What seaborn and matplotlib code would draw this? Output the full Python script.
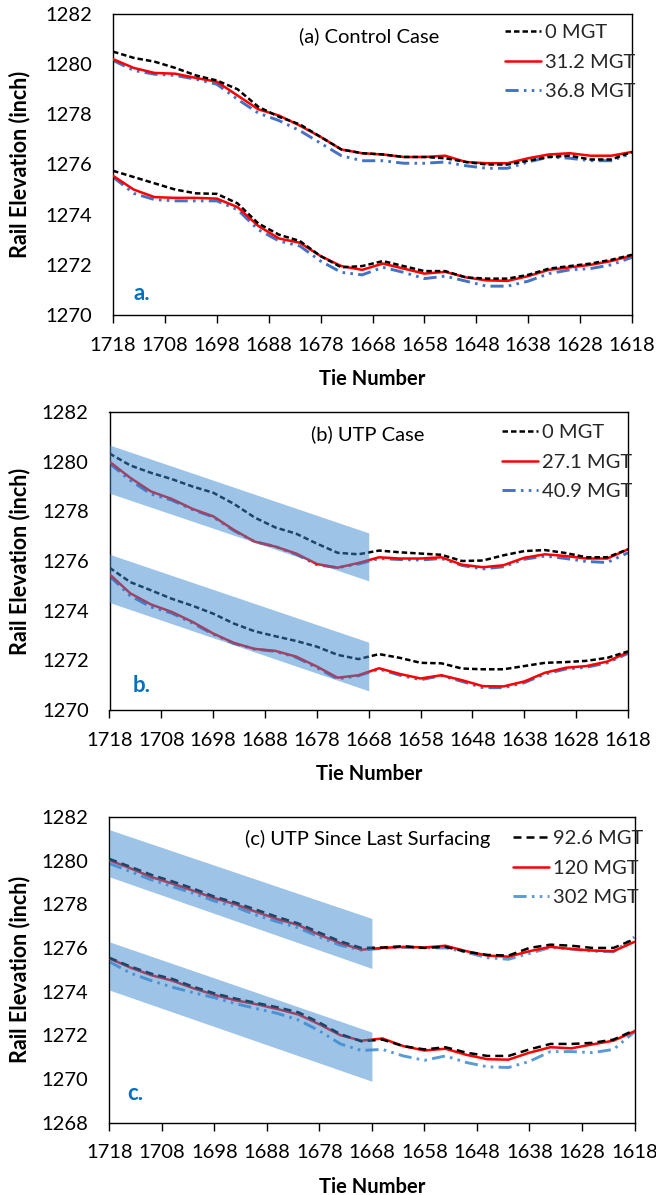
import matplotlib
matplotlib.use("Agg")
import matplotlib.pyplot as plt
import seaborn as sns

# ---------------- data ----------------
ties = [1718, 1714, 1710, 1706, 1702, 1698, 1694, 1690, 1686, 1682, 1678, 1674, 1670,
        1666, 1662, 1658, 1654, 1650, 1646, 1642, 1638, 1634, 1630, 1626, 1622, 1618]
tick_values = [1718, 1708, 1698, 1688, 1678, 1668, 1658, 1648, 1638, 1628, 1618]

# (a) Control case
a_labels = ["0 MGT", "31.2 MGT", "36.8 MGT"]
a_up_0 = [1280.5, 1280.25, 1280.1, 1279.85, 1279.55, 1279.35, 1279.0, 1278.3, 1277.9, 1277.6, 1277.1, 1276.6, 1276.45,
          1276.4, 1276.3, 1276.3, 1276.25, 1276.1, 1276.0, 1276.0, 1276.15, 1276.3, 1276.35, 1276.2, 1276.2, 1276.5]
a_up_1 = [1280.2, 1279.85, 1279.65, 1279.62, 1279.45, 1279.3, 1278.75, 1278.2, 1277.95, 1277.55, 1277.1, 1276.6, 1276.45,
          1276.4, 1276.3, 1276.3, 1276.35, 1276.1, 1276.05, 1276.05, 1276.25, 1276.4, 1276.45, 1276.35, 1276.35, 1276.5]
a_up_2 = [1280.15, 1279.75, 1279.6, 1279.55, 1279.4, 1279.2, 1278.6, 1278.05, 1277.75, 1277.35, 1276.85, 1276.35, 1276.15,
          1276.15, 1276.05, 1276.05, 1276.1, 1275.95, 1275.85, 1275.85, 1276.1, 1276.3, 1276.25, 1276.15, 1276.15, 1276.45]
a_lo_0 = [1275.75, 1275.5, 1275.25, 1275.0, 1274.85, 1274.83, 1274.45, 1273.65, 1273.2, 1272.95, 1272.35, 1271.9, 1271.95,
          1272.15, 1271.95, 1271.75, 1271.75, 1271.5, 1271.45, 1271.45, 1271.6, 1271.85, 1271.95, 1272.05, 1272.2, 1272.4]
a_lo_1 = [1275.55, 1275.0, 1274.7, 1274.67, 1274.67, 1274.64, 1274.3, 1273.55, 1273.05, 1272.88, 1272.35, 1271.95, 1271.8,
          1272.05, 1271.85, 1271.65, 1271.72, 1271.5, 1271.38, 1271.36, 1271.55, 1271.8, 1271.9, 1272.0, 1272.15, 1272.37]
a_lo_2 = [1275.5, 1274.85, 1274.6, 1274.55, 1274.55, 1274.55, 1274.2, 1273.4, 1272.95, 1272.75, 1272.15, 1271.7, 1271.6,
          1271.9, 1271.7, 1271.45, 1271.55, 1271.35, 1271.15, 1271.15, 1271.35, 1271.65, 1271.8, 1271.85, 1272.0, 1272.3]

# (b) UTP case
b_labels = ["0 MGT", "27.1 MGT", "40.9 MGT"]
b_up_0 = [1280.33, 1279.85, 1279.55, 1279.3, 1279.0, 1278.75, 1278.3, 1277.75, 1277.35, 1277.1, 1276.7, 1276.33, 1276.27,
          1276.42, 1276.35, 1276.3, 1276.25, 1276.0, 1276.02, 1276.23, 1276.4, 1276.44, 1276.32, 1276.15, 1276.15, 1276.47]
b_up_1 = [1280.0, 1279.35, 1278.8, 1278.5, 1278.1, 1277.8, 1277.25, 1276.78, 1276.58, 1276.3, 1275.88, 1275.73, 1275.92,
          1276.15, 1276.1, 1276.1, 1276.15, 1275.85, 1275.75, 1275.83, 1276.13, 1276.27, 1276.2, 1276.1, 1276.1, 1276.47]
b_up_2 = [1279.93, 1279.25, 1278.7, 1278.45, 1278.07, 1277.77, 1277.22, 1276.78, 1276.58, 1276.27, 1275.85, 1275.73, 1275.88,
          1276.1, 1276.06, 1276.04, 1276.1, 1275.82, 1275.68, 1275.77, 1276.07, 1276.2, 1276.1, 1275.98, 1275.94, 1276.33]
b_lo_0 = [1275.73, 1275.15, 1274.82, 1274.48, 1274.2, 1273.88, 1273.48, 1273.17, 1272.97, 1272.78, 1272.55, 1272.22, 1272.05,
          1272.25, 1272.1, 1271.9, 1271.88, 1271.67, 1271.64, 1271.64, 1271.77, 1271.9, 1271.93, 1271.98, 1272.1, 1272.36]
b_lo_1 = [1275.47, 1274.7, 1274.25, 1273.95, 1273.55, 1273.08, 1272.7, 1272.46, 1272.38, 1272.15, 1271.75, 1271.3, 1271.4,
          1271.68, 1271.45, 1271.27, 1271.4, 1271.2, 1270.96, 1270.95, 1271.15, 1271.5, 1271.7, 1271.77, 1271.95, 1272.33]
b_lo_2 = [1275.4, 1274.6, 1274.15, 1273.9, 1273.5, 1273.05, 1272.68, 1272.45, 1272.36, 1272.12, 1271.7, 1271.25, 1271.38,
          1271.65, 1271.4, 1271.22, 1271.38, 1271.15, 1270.9, 1270.9, 1271.1, 1271.45, 1271.65, 1271.72, 1271.9, 1272.28]

# (c) UTP since last surfacing
c_labels = ["92.6 MGT", "120 MGT", "302 MGT"]
c_up_0 = [1280.08, 1279.72, 1279.35, 1279.05, 1278.72, 1278.35, 1278.08, 1277.75, 1277.42, 1277.12, 1276.7, 1276.3, 1276.0,
          1276.02, 1276.08, 1276.0, 1276.05, 1275.82, 1275.68, 1275.65, 1276.0, 1276.15, 1276.1, 1276.0, 1276.0, 1276.4]
c_up_1 = [1280.02, 1279.65, 1279.25, 1278.95, 1278.62, 1278.28, 1278.0, 1277.65, 1277.32, 1277.05, 1276.6, 1276.22, 1275.92,
          1276.0, 1276.05, 1276.02, 1276.1, 1275.85, 1275.65, 1275.6, 1275.85, 1276.05, 1275.95, 1275.88, 1275.85, 1276.28]
c_up_2 = [1279.87, 1279.5, 1279.12, 1278.82, 1278.5, 1278.15, 1277.88, 1277.5, 1277.2, 1276.92, 1276.5, 1276.12, 1275.9,
          1275.98, 1276.02, 1276.0, 1276.0, 1275.8, 1275.55, 1275.48, 1275.75, 1276.02, 1275.95, 1275.85, 1275.82, 1276.5]
c_lo_0 = [1275.55, 1275.15, 1274.82, 1274.58, 1274.22, 1273.92, 1273.68, 1273.48, 1273.28, 1273.05, 1272.58, 1272.05, 1271.72,
          1271.8, 1271.5, 1271.35, 1271.45, 1271.2, 1271.05, 1271.05, 1271.35, 1271.6, 1271.6, 1271.65, 1271.8, 1272.23]
c_lo_1 = [1275.52, 1275.1, 1274.75, 1274.5, 1274.15, 1273.85, 1273.6, 1273.42, 1273.2, 1272.95, 1272.5, 1272.0, 1271.75,
          1271.85, 1271.5, 1271.3, 1271.38, 1271.1, 1270.9, 1270.88, 1271.2, 1271.45, 1271.4, 1271.58, 1271.75, 1272.18]
c_lo_2 = [1275.37, 1274.85, 1274.5, 1274.2, 1273.95, 1273.72, 1273.45, 1273.22, 1273.0, 1272.7, 1272.2, 1271.6, 1271.3,
          1271.35, 1271.05, 1270.85, 1271.05, 1270.75, 1270.55, 1270.52, 1270.8, 1271.25, 1271.25, 1271.2, 1271.35, 1272.15]

# shaded bands (tie range, top and bottom elevations at both ends)
band_ties = [1718, 1668]
b_band_up_top = [1280.67, 1277.13]
b_band_up_bot = [1278.73, 1275.2]
b_band_lo_top = [1276.27, 1272.73]
b_band_lo_bot = [1274.33, 1270.77]
c_band_up_top = [1281.42, 1277.35]
c_band_up_bot = [1279.26, 1275.06]
c_band_lo_top = [1276.28, 1272.14]
c_band_lo_bot = [1274.07, 1269.89]

# ---------------- style ----------------
sns.set_theme(style="ticks")
plt.rcParams["font.family"] = ["Lato", "DejaVu Sans"]
FS = 14.5
W, H = 656, 1195
fig = plt.figure(figsize=(W / 100, H / 100), dpi=100)
fig.patch.set_facecolor("white")

BLACK = "#000000"
RED = "#FF0000"
LETTER = "#0070C0"

panels = [
    dict(box=(113, 632, 14, 315), ylim=(1270, 1282), yticks=list(range(1270, 1283, 2)),
         title="(a) Control Case", title_xy=(369, 36), leg_xy=(505, 32), letter="a.", letter_xy=(133, 293),
         series=(a_up_0, a_up_1, a_up_2, a_lo_0, a_lo_1, a_lo_2), labels=a_labels,
         blue="#4472C4", black_ls=(0, (2.2, 1.2)), bands=None),
    dict(box=(109.5, 628, 412, 710), ylim=(1270, 1282), yticks=list(range(1270, 1283, 2)),
         title="(b) UTP Case", title_xy=(368, 434), leg_xy=(502, 432), letter="b.", letter_xy=(133, 686),
         series=(b_up_0, b_up_1, b_up_2, b_lo_0, b_lo_1, b_lo_2), labels=b_labels,
         blue="#4472C4", black_ls=(0, (2.2, 1.2)),
         bands=[(b_band_up_top, b_band_up_bot), (b_band_lo_top, b_band_lo_bot)]),
    dict(box=(109.3, 634.5, 817, 1122.5), ylim=(1268, 1282), yticks=list(range(1268, 1283, 2)),
         title="(c) UTP Since Last Surfacing", title_xy=(368, 839), leg_xy=(513, 838), letter="c.", letter_xy=(127, 1094),
         series=(c_up_0, c_up_1, c_up_2, c_lo_0, c_lo_1, c_lo_2), labels=c_labels,
         blue="#5B9BD5", black_ls=(0, (3.2, 2.0)),
         bands=[(c_band_up_top, c_band_up_bot), (c_band_lo_top, c_band_lo_bot)]),
]

for p in panels:
    l, r, t, b = p["box"]
    ax = fig.add_axes([l / W, 1 - b / H, (r - l) / W, (b - t) / H])
    fx = lambda px: (px - l) / (r - l)
    fy = lambda py: (b - py) / (b - t)

    up0, up1, up2, lo0, lo1, lo2 = p["series"]
    blue_ls = (0, (4.5, 1.8, 0.9, 1.8, 0.9, 1.8))
    handles = {}
    # draw order: blue (bottom), red, black (top)
    for key, ys_up, ys_lo, color, ls, lw, z in [
        (2, up2, lo2, p["blue"], blue_ls, 2.1, 2),
        (1, up1, lo1, RED, "-", 1.8, 3),
        (0, up0, lo0, BLACK, p["black_ls"], 1.8, 4),
    ]:
        sns.lineplot(x=ties, y=ys_up, ax=ax, color=color, linestyle=ls, linewidth=lw,
                     sort=False, zorder=z, label=p["labels"][key], legend=False)
        handles[key] = ax.lines[-1]
        sns.lineplot(x=ties, y=ys_lo, ax=ax, color=color, linestyle=ls, linewidth=lw,
                     sort=False, zorder=z, legend=False)

    if p["bands"]:
        for top, bot in p["bands"]:
            ax.fill_between(band_ties, top, bot, color="#3C8AD0", alpha=0.5, linewidth=0, zorder=5)

    ax.set_xlim(1718, 1618)
    ax.set_ylim(*p["ylim"])
    ax.set_xticks(tick_values)
    ax.set_xticklabels([str(v) for v in tick_values])
    ax.set_yticks(p["yticks"])
    ax.set_yticklabels([str(v) for v in p["yticks"]])
    ax.tick_params(axis="x", direction="out", length=5.8, width=1, pad=10, labelsize=FS, colors=BLACK)
    ax.tick_params(axis="y", length=0, pad=15, labelsize=FS, colors=BLACK)
    for s in ax.spines.values():
        s.set_visible(True)
        s.set_color(BLACK)
        s.set_linewidth(1.0)
    ax.set_facecolor("white")
    ax.grid(False)
    ax.set_xlabel("Tie Number", fontsize=FS, fontweight="bold", labelpad=11, color=BLACK)
    ax.set_ylabel("")

    tx, ty = p["title_xy"]
    ax.text(fx(tx), fy(ty), p["title"], transform=ax.transAxes, ha="center", va="center",
            fontsize=FS, color=BLACK, zorder=10)
    lx_, ly_ = p["leg_xy"]
    ax.legend(handles=[handles[0], handles[1], handles[2]], labels=p["labels"],
              loc="upper left", bbox_to_anchor=(fx(lx_), fy(ly_ - 8)), bbox_transform=ax.transAxes,
              frameon=False, fontsize=FS, handlelength=1.8, handletextpad=0.2,
              labelspacing=0.62, borderpad=0, borderaxespad=0)
    lx, ly = p["letter_xy"]
    ax.text(fx(lx), fy(ly), p["letter"], transform=ax.transAxes, ha="left", va="center",
            fontsize=16, fontweight="bold", color=LETTER, zorder=10)

    fig.text(20 / W, 1 - ((t + b) / 2) / H, "Rail Elevation (inch)", rotation=90,
             ha="center", va="center", fontsize=15.5, fontweight="bold", color=BLACK)

fig.savefig("out.png", dpi=100, facecolor="white")
